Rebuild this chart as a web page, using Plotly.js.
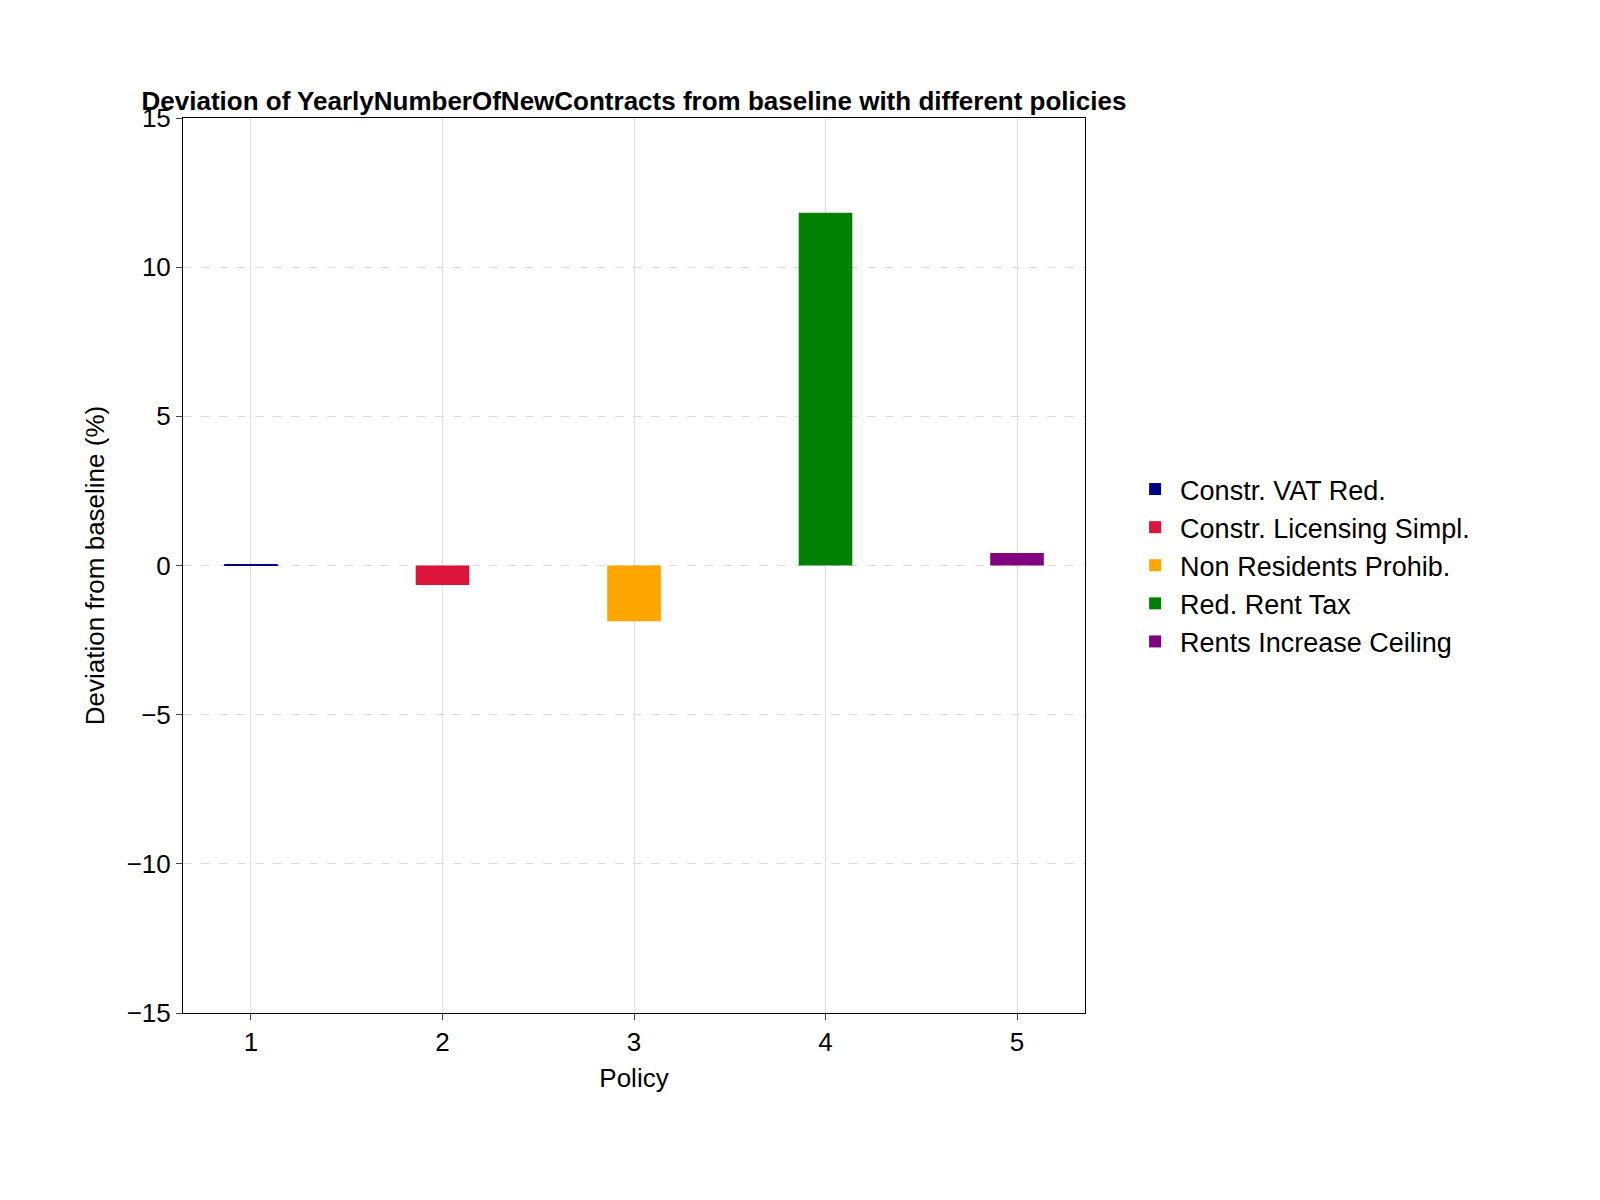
<!DOCTYPE html>
<html>
<head>
<meta charset="utf-8">
<script src="https://cdn.plot.ly/plotly-3.0.1.min.js"></script>
<style>body{margin:0;background:#fff}</style>
</head>
<body>
<div id="myDiv" style="width:1600px;height:1200px"></div>
<script>
var policies = [1, 2, 3, 4, 5];
var policyNames = ['Constr. VAT Red.', 'Constr. Licensing Simpl.', 'Non Residents Prohib.', 'Red. Rent Tax', 'Rents Increase Ceiling'];
var deviations = [0.05, -0.65, -1.87, 11.82, 0.42];
var colors = ['#000080', '#dc143c', '#ffa500', '#008000', '#800080'];

var data = [];
for (var i = 0; i < policies.length; i++) {
  data.push({
    type: 'bar',
    x: [policies[i]],
    y: [deviations[i]],
    name: policyNames[i],
    width: 0.28,
    marker: {color: colors[i]}
  });
}

var layout = {
  font: {family: 'Liberation Sans, Arial, sans-serif', size: 26, color: '#000'},
  title: {text: '<b>Deviation of YearlyNumberOfNewContracts from baseline with different policies</b>',
    font: {size: 26}, x: 0.5, xref: 'paper', y: 1, yref: 'paper', yanchor: 'bottom', pad: {b: 8}},
  margin: {l: 183, r: 515, t: 118, b: 187},
  showlegend: true,
  legend: {x: 1.05, xanchor: 'left', y: 0.5, yanchor: 'middle', font: {size: 27}, tracegroupgap: 8, itemwidth: 40},
  barmode: 'overlay',
  xaxis: {
    range: [0.645, 5.355], tickvals: policies, ticks: 'outside', ticklen: 6,
    showgrid: true, gridcolor: '#e0e0e0', zeroline: false,
    showline: true, mirror: true, linecolor: '#000',
    title: {text: 'Policy', font: {size: 26}, standoff: 12}
  },
  yaxis: {
    range: [-15, 15], tickvals: [-15, -10, -5, 0, 5, 10, 15],
    ticktext: ['\u221215', '\u221210', '\u22125', '0', '5', '10', '15'],
    ticks: 'outside', ticklen: 6,
    showgrid: true, gridcolor: '#dcdcdc', griddash: 'dash', zeroline: false,
    showline: true, mirror: true, linecolor: '#000',
    title: {text: 'Deviation from baseline (%)', font: {size: 26}, standoff: 14}
  },
  plot_bgcolor: '#fff',
  paper_bgcolor: '#fff'
};

Plotly.newPlot('myDiv', data, layout, {displayModeBar: false});
</script>
</body>
</html>
